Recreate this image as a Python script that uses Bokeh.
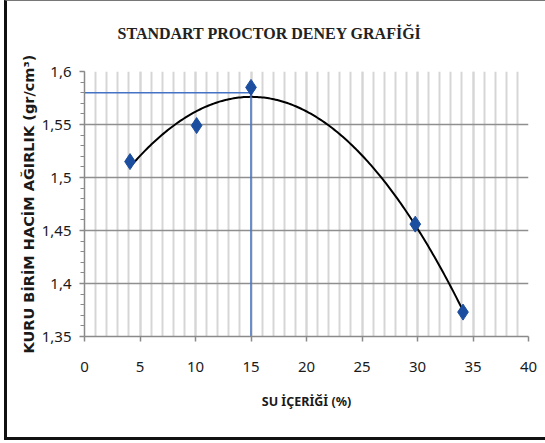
import numpy as np
from bokeh.plotting import figure
from bokeh.models import FixedTicker, ColumnDataSource, Title
from bokeh.embed import file_html
from bokeh.resources import INLINE

# Compaction test results
water_content = [4.1, 10.1, 15.0, 29.8, 34.1]        # %
dry_density = [1.515, 1.549, 1.585, 1.456, 1.373]    # gr/cm3

# Optimum water content and max dry density read-off
w_opt = 15.0
gamma_max = 1.58

x_ticks = [0, 5, 10, 15, 20, 25, 30, 35, 40]
y_ticks = [1.35, 1.4, 1.45, 1.5, 1.55, 1.6]
y_tick_labels = ["1,35", "1,4", "1,45", "1,5", "1,55", "1,6"]

p = figure(width=541, height=440, output_backend="svg", toolbar_location=None,
           x_range=(0, 40), y_range=(1.35, 1.6),
           min_border_left=77, min_border_right=20, min_border_top=70,
           min_border_bottom=105)

p.outline_line_color = None
p.background_fill_color = "white"
p.border_fill_color = "white"

# chart heading
p.title.text = "STANDART PROCTOR DENEY GRAFİĞİ"
p.title.align = "left"
p.title.offset = 33
p.title.text_font = "Liberation Serif"
p.title.text_font_size = "16px"
p.title.text_font_style = "bold"
p.title.text_color = "#222222"
p.title.standoff = 0

# empty band between the heading and the plot frame
p.add_layout(Title(text=" ", text_font_size="25px", standoff=0), "above")

# axes
p.xaxis.ticker = FixedTicker(ticks=x_ticks, minor_ticks=list(range(0, 41)))
p.yaxis.ticker = FixedTicker(ticks=y_ticks,
                             minor_ticks=[round(1.35 + 0.01 * i, 2) for i in range(26)])
p.yaxis.major_label_overrides = {t: l for t, l in zip(y_ticks, y_tick_labels)}

for ax in (p.xaxis, p.yaxis):
    ax.axis_line_color = "#8a8a8a"
    ax.axis_line_width = 1.5
    ax.major_tick_line_color = "#8a8a8a"
    ax.major_tick_line_width = 1.5
    ax.major_tick_in = 0
    ax.major_tick_out = 5
    ax.major_label_text_font = "Noto Sans"
    ax.major_label_text_font_size = "15px"
    ax.major_label_text_color = "#1a1a1a"
    ax.axis_label_text_font_style = "bold"
    ax.axis_label_text_color = "#1a1a1a"

p.xaxis.minor_tick_line_color = None
p.yaxis.minor_tick_line_color = "#8a8a8a"
p.yaxis.minor_tick_in = 0
p.yaxis.minor_tick_out = 4
p.yaxis.major_label_standoff = 8
p.xaxis.major_label_standoff = 20

p.xaxis.axis_label = "SU İÇERİĞİ (%)"
p.xaxis.axis_label_text_font = "Noto Sans"
p.xaxis.axis_label_text_font_size = "12.5px"
p.xaxis.axis_label_standoff = 18

p.yaxis.axis_label = "KURU BİRİM HACİM AĞIRLIK (gr/cm³)"
p.yaxis.axis_label_text_font = "DejaVu Sans"
p.yaxis.axis_label_text_font_size = "14.5px"
p.yaxis.axis_label_standoff = 2

# grids
p.xgrid.grid_line_color = "#d6d6d6"
p.xgrid.grid_line_width = 2
p.xgrid.minor_grid_line_color = "#d6d6d6"
p.xgrid.minor_grid_line_width = 2
p.ygrid.grid_line_color = "#8f8f8f"
p.ygrid.grid_line_width = 1.5

# quadratic trend line through the measurements
coef = np.polyfit(water_content, dry_density, 2)
xs = np.linspace(min(water_content), max(water_content), 200)
p.line(xs, np.polyval(coef, xs), line_color="black", line_width=2)

# optimum read-off lines
p.line([0, w_opt], [gamma_max, gamma_max], line_color="#4472c4", line_width=1.5)
p.line([w_opt, w_opt], [1.35, gamma_max], line_color="#4472c4", line_width=1.5)

src = ColumnDataSource(dict(x=water_content, y=dry_density))
p.scatter("x", "y", source=src, marker="diamond", size=16,
          fill_color="#1c4ea0", line_color="#1c4ea0")

p.styles = {"border-left": "3px solid #111", "border-bottom": "3px solid #111",
            "border-top": "1px solid #777", "margin-left": "4px"}

open("out.html", "w").write(file_html(p, INLINE))
